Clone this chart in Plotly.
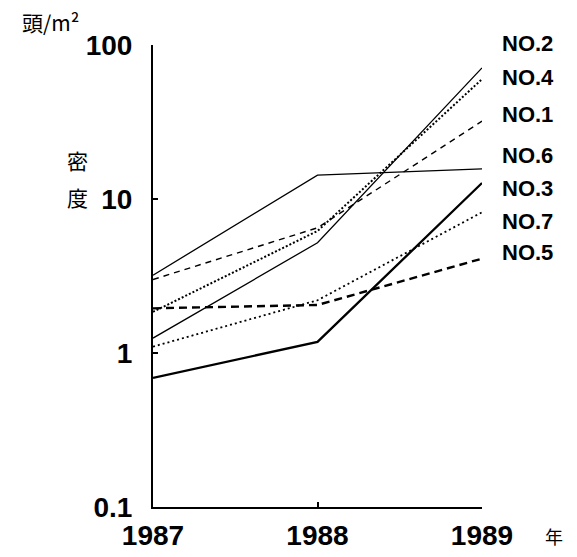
import plotly.graph_objects as go

years = [1987, 1988, 1989]
series_names = ["NO.6", "NO.1", "NO.4", "NO.2", "NO.5", "NO.7", "NO.3"]
no6 = [3.2, 14.3, 15.7]
no1 = [3.0, 6.5, 32]
no4 = [1.85, 6.2, 60]
no2 = [1.25, 5.2, 71]
no5 = [1.95, 2.05, 4.1]
no7 = [1.1, 2.2, 8.2]
no3 = [0.69, 1.18, 12.7]
y_ticks = [0.1, 1, 10, 100]
y_tick_labels = ["0.1", "1", "10", "100"]
x_tick_labels = ["1987", "1988", "1989"]

label_order = ["NO.2", "NO.4", "NO.1", "NO.6", "NO.3", "NO.7", "NO.5"]
label_y_px = [43, 78, 115, 155, 188, 222, 253]

styles = {
    "NO.6": dict(width=1.3, dash="solid"),
    "NO.1": dict(width=1.4, dash="6px,5px"),
    "NO.4": dict(width=2.0, dash="2px,2px"),
    "NO.2": dict(width=1.3, dash="solid"),
    "NO.5": dict(width=2.4, dash="8px,5px"),
    "NO.7": dict(width=1.8, dash="2px,3px"),
    "NO.3": dict(width=2.3, dash="solid"),
}
values = {"NO.6": no6, "NO.1": no1, "NO.4": no4, "NO.2": no2,
          "NO.5": no5, "NO.7": no7, "NO.3": no3}

fig = go.Figure()
for name in series_names:
    st = styles[name]
    fig.add_trace(go.Scatter(x=years, y=values[name], mode="lines", name=name,
                             line=dict(color="black", width=st["width"], dash=st["dash"]),
                             showlegend=False))

L, R, T, B = 153, 95, 45, 50
W, H = 577, 557
ph = H - T - B
tick_font = dict(family="Liberation Sans, Arial", size=28, color="black", weight="bold")

fig.update_layout(
    width=W, height=H,
    margin=dict(l=L, r=R, t=T, b=B),
    paper_bgcolor="white", plot_bgcolor="white",
    xaxis=dict(range=[1987, 1989], tickvals=years, ticktext=x_tick_labels,
               showgrid=False, zeroline=False, showline=True, linecolor="black",
               linewidth=2, ticks="inside", ticklen=5, tickwidth=2, tickcolor="black",
               tickfont=tick_font, ticklabelstandoff=2, automargin=False),
    yaxis=dict(type="log", range=[-1, 2], tickvals=y_ticks, ticktext=y_tick_labels,
               showgrid=False, zeroline=False, showline=True, linecolor="black",
               linewidth=2, ticks="inside", ticklen=5, tickwidth=2, tickcolor="black",
               tickfont=tick_font, ticklabelstandoff=13, automargin=False),
)

for name, ypx in zip(label_order, label_y_px):
    fig.add_annotation(xref="paper", yref="paper", x=(500 - L) / (W - L - R),
                       y=(H - B - ypx) / ph, text=f"<b>{name}</b>", showarrow=False,
                       xanchor="left", yanchor="middle",
                       font=dict(family="Liberation Sans, Arial", size=22, color="black"))

cjk = "Noto Sans CJK JP"
fig.add_annotation(xref="paper", yref="paper", x=(20 - L) / (W - L - R), y=(H - B - 22) / ph,
                   text="頭/m²", showarrow=False, xanchor="left", yanchor="middle",
                   font=dict(family=cjk, size=21, color="black"))
fig.add_annotation(xref="paper", yref="paper", x=(77 - L) / (W - L - R), y=(H - B - 160) / ph,
                   text="密", showarrow=False, xanchor="center", yanchor="middle",
                   font=dict(family=cjk, size=21, color="black"))
fig.add_annotation(xref="paper", yref="paper", x=(77 - L) / (W - L - R), y=(H - B - 197) / ph,
                   text="度", showarrow=False, xanchor="center", yanchor="middle",
                   font=dict(family=cjk, size=21, color="black"))
fig.add_annotation(xref="paper", yref="paper", x=(543 - L) / (W - L - R), y=(H - B - 536) / ph,
                   text="年", showarrow=False, xanchor="left", yanchor="middle",
                   font=dict(family=cjk, size=18, color="black"))

fig.write_html("out.html")
